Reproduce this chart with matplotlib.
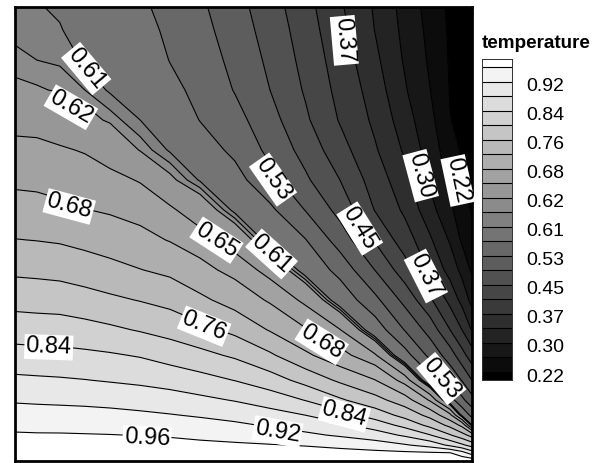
import numpy as np
import matplotlib
matplotlib.use('Agg')
import matplotlib.pyplot as plt
from matplotlib.colors import ListedColormap, BoundaryNorm
from matplotlib.transforms import ScaledTranslation

plt.rcParams['font.family'] = ['Liberation Sans', 'DejaVu Sans']

# contour levels and colour-bar labels
levels = [.22, .26, .30, .335, .37, .41, .45, .49, .53, .57, .61, .615, .62, .65, .68, .72, .76, .80, .84, .88, .92, .96]
bar_labels = ['0.22', '0.30', '0.37', '0.45', '0.53', '0.61', '0.62', '0.68', '0.76', '0.84', '0.92']

# sampling stations of the field (fractions of the plot box)
x_stations = [0, .048, .098, .153, .208, .274, .339, .405, .481, .558, .635, .711, .788, .853, .908, .952, .978, 1]
y_stations = [1, .949, .883, .817, .751, .685, .619, .553, .487, .421, .355, .289, .233, .178, .134, .101, .079, .057, .035, .018, 0]

# temperature x 1000, top row first
row_01 = [612, 611, 608, 598, 588, 576, 559, 537, 505, 468, 425, 375, 331, 287, 244, 212, 200, 190]
row_02 = [614, 613, 611, 603, 594, 583, 563, 543, 511, 474, 431, 381, 334, 291, 249, 214, 203, 193]
row_03 = [616, 615, 614, 609, 602, 592, 569, 552, 519, 482, 438, 390, 343, 296, 254, 216, 206, 197]
row_04 = [623, 621, 619, 615, 609, 601, 580, 560, 528, 490, 446, 398, 353, 304, 261, 218, 209, 201]
row_05 = [641, 640, 634, 625, 618, 610, 594, 569, 544, 505, 457, 407, 362, 317, 272, 221, 213, 205]
row_06 = [658, 657, 653, 648, 637, 619, 609, 588, 562, 520, 476, 426, 374, 330, 283, 236, 216, 209]
row_07 = [673, 672, 668, 664, 658, 648, 623, 609, 584, 543, 497, 450, 391, 346, 295, 250, 219, 213]
row_08 = [695, 692, 687, 681, 676, 668, 655, 632, 607, 578, 529, 477, 408, 363, 314, 269, 235, 217]
row_09 = [721, 719, 716, 709, 701, 691, 678, 663, 636, 603, 572, 512, 446, 389, 340, 296, 254, 227]
row_10 = [752, 750, 747, 740, 732, 721, 711, 691, 669, 639, 602, 557, 489, 428, 363, 323, 290, 253]
row_11 = [786, 784, 782, 775, 767, 758, 748, 728, 704, 675, 643, 598, 540, 478, 417, 358, 325, 288]
row_12 = [822, 820, 819, 814, 807, 797, 786, 771, 750, 717, 683, 651, 594, 528, 475, 410, 370, 332]
row_13 = [854, 852, 851, 848, 844, 837, 824, 811, 794, 766, 728, 693, 653, 587, 519, 470, 425, 388]
row_14 = [888, 886, 884, 881, 877, 872, 865, 854, 839, 818, 787, 753, 721, 665, 587, 521, 488, 450]
row_15 = [916, 914, 913, 911, 908, 903, 897, 889, 878, 862, 839, 806, 774, 739, 676, 588, 540, 505]
row_16 = [937, 936, 934, 933, 931, 927, 922, 916, 907, 895, 880, 856, 823, 787, 748, 689, 604, 558]
row_17 = [951, 950, 949, 948, 946, 943, 939, 934, 927, 916, 903, 888, 862, 828, 789, 749, 709, 610]
row_18 = [964, 963, 963, 962, 961, 959, 957, 952, 947, 939, 928, 915, 899, 874, 842, 803, 776, 744]
row_19 = [974, 973, 973, 973, 972, 971, 970, 968, 965, 962, 958, 951, 939, 924, 906, 872, 848, 824]
row_20 = [982, 982, 982, 981, 981, 981, 980, 979, 978, 976, 974, 972, 970, 967, 964, 961, 936, 900]
row_21 = [990] * 18

# in-plot contour labels
label_texts = ['0.61', '0.62', '0.68', '0.84', '0.96', '0.92', '0.84', '0.76', '0.68', '0.65', '0.61', '0.53', '0.37', '0.45', '0.53', '0.30', '0.22', '0.37']
label_x = [.160, .125, .120, .074, .289, .575, .722, .416, .674, .444, .565, .937, .904, .759, .569, .893, .974, .726]
label_y = [.868, .784, .566, .256, .055, .070, .108, .302, .267, .491, .460, .185, .410, .515, .623, .630, .619, .927]
label_rot = [-50, -30, -15, -2, -3, -10, -15, -22, -32, -33, -42, -50, -63, -58, -55, -75, -78, -85]

W, H = 599, 463
fig = plt.figure(figsize=(W / 100, H / 100), dpi=100, facecolor='white')

field = np.array([row_01, row_02, row_03, row_04, row_05, row_06, row_07, row_08, row_09, row_10, row_11,
                  row_12, row_13, row_14, row_15, row_16, row_17, row_18, row_19, row_20, row_21]) / 1000
n = len(levels)
greys = [str(i / n) for i in range(n + 1)]

ax = fig.add_axes([15 / W, (H - 461) / H, 457 / W, 454 / H])
ax.contourf(x_stations, y_stations, field, levels=levels, colors=greys, extend='both')
ax.contour(x_stations, y_stations, field, levels=levels, colors='black', linewidths=0.8)
ax.set_xlim(0, 1)
ax.set_ylim(0, 1)
ax.set_xticks([])
ax.set_yticks([])
for s in ax.spines.values():
    s.set_linewidth(2.0)
    s.set_color('black')

for t, x, y, r in zip(label_texts, label_x, label_y, label_rot):
    ax.text(x, y, t, rotation=r, rotation_mode='anchor', ha='center', va='center_baseline', fontsize=17,
            color='black', bbox=dict(fc='white', ec='none', pad=1.0), zorder=5)

# colour bar
cax = fig.add_axes([482 / W, (H - 380) / H, 30 / W, 321 / H])
edges = [-0.55] + list(range(n)) + [n - 1 + 0.55]
cmap = ListedColormap(greys)
cax.pcolormesh([0, 1], edges, np.arange(n + 1).reshape(-1, 1), cmap=cmap,
               norm=BoundaryNorm(np.arange(n + 2) - 0.5, n + 1))
cax.hlines(range(n), 0, 1, color='black', linewidth=0.8)
cax.set_xlim(0, 1)
cax.set_ylim(edges[0], edges[-1])
cax.set_xticks([])
cax.yaxis.tick_right()
cax.set_yticks(range(0, n - 1, 2))
cax.set_yticklabels(bar_labels, fontsize=14)
cax.tick_params(axis='y', length=0, pad=10)
down = ScaledTranslation(0, -3 / 100, fig.dpi_scale_trans)
for lab in cax.get_yticklabels():
    lab.set_transform(lab.get_transform() + down)
for s in cax.spines.values():
    s.set_linewidth(0.7)
    s.set_color('#303030')

fig.text(482 / W, (H - 43) / H, 'temperature', fontsize=13.6, fontweight='bold', ha='left', va='center')

fig.savefig('out.png', dpi=100)
